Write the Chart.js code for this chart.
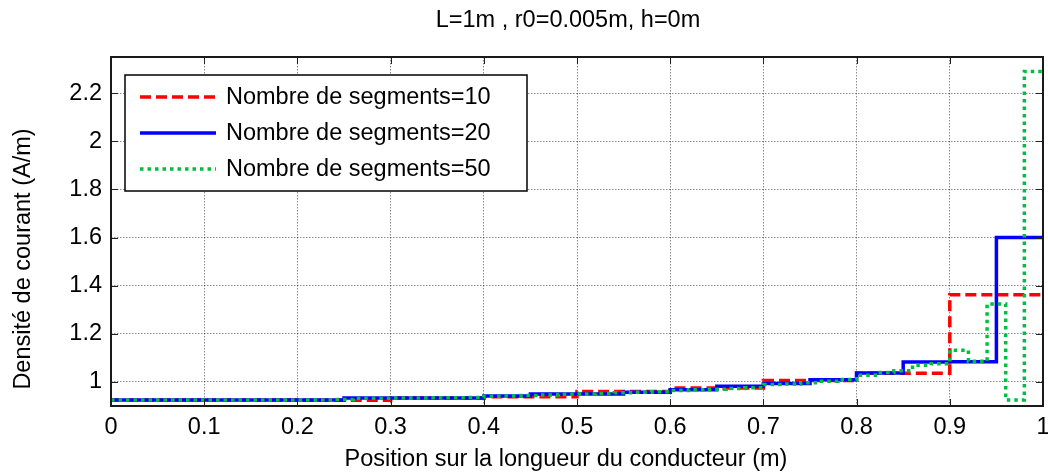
<!DOCTYPE html>
<html>
<head>
<meta charset="utf-8">
<script src="https://cdn.jsdelivr.net/npm/chart.js@4/dist/chart.umd.min.js"></script>
<style>
  html, body { margin: 0; padding: 0; background: #fff; }
  canvas { display: block; }
</style>
</head>
<body>
<canvas id="chart1" width="1048" height="473"></canvas>
<script>
// tick labels
const xTicks = [0, 0.1, 0.2, 0.3, 0.4, 0.5, 0.6, 0.7, 0.8, 0.9, 1]
const yTicks = [1, 1.2, 1.4, 1.6, 1.8, 2, 2.2]

const seriesLabels = ['Nombre de segments=10', 'Nombre de segments=20', 'Nombre de segments=50']

// current density per segment (A/m), segments equally spaced along 0..1 m
const seg10 = [0.925, 0.925, 0.924, 0.933, 0.938, 0.960, 0.975, 1.006, 1.036, 1.362]
const seg20 = [0.925, 0.925, 0.925, 0.925, 0.925, 0.933, 0.933, 0.933, 0.942, 0.950,
               0.950, 0.957, 0.968, 0.982, 0.993, 1.009, 1.037, 1.083, 1.084, 1.600]
const seg50 = [0.925, 0.925, 0.925, 0.925, 0.925, 0.925, 0.925, 0.925, 0.925, 0.925,
               0.925, 0.925, 0.927, 0.932, 0.932, 0.933, 0.933, 0.934, 0.934, 0.935,
               0.941, 0.942, 0.944, 0.946, 0.949, 0.950, 0.952, 0.955, 0.957, 0.959,
               0.964, 0.967, 0.970, 0.973, 0.976, 0.989, 0.991, 0.997, 1.003, 1.010,
               1.028, 1.039, 1.046, 1.069, 1.076, 1.132, 1.086, 1.324, 0.925, 2.290]

const titleText = 'L=1m , r0=0.005m, h=0m'
const xTitle = 'Position sur la longueur du conducteur (m)'
const yTitle = 'Densité de courant (A/m)'

const FONT = "'Liberation Sans', Arial, sans-serif"
const FSIZE = 23.5

// stairs: point i at x=i/n holds values[i] until next point
let toStairs = (vals) => {
  let n = vals.length
  let pts = vals.map((v, i) => ({ x: i / n, y: v }))
  pts.push({ x: 1, y: vals[n - 1] })
  return pts
}

let framePlugin = {
  id: 'frame',
  afterDatasetsDraw(chart) {
    let { ctx, chartArea: a, scales } = chart
    ctx.save()
    // inward tick marks
    ctx.strokeStyle = '#222'
    ctx.lineWidth = 1
    ctx.beginPath()
    xTicks.forEach(t => {
      let px = Math.round(scales.x.getPixelForValue(t)) + 0.5
      ctx.moveTo(px, a.bottom); ctx.lineTo(px, a.bottom - 7)
      ctx.moveTo(px, a.top); ctx.lineTo(px, a.top + 7)
    })
    yTicks.forEach(t => {
      let py = Math.round(scales.y.getPixelForValue(t)) + 0.5
      ctx.moveTo(a.left, py); ctx.lineTo(a.left + 7, py)
      ctx.moveTo(a.right, py); ctx.lineTo(a.right - 7, py)
    })
    ctx.stroke()
    // box
    ctx.strokeStyle = '#1a1a1a'
    ctx.lineWidth = 2
    ctx.strokeRect(a.left, a.top, a.right - a.left, a.bottom - a.top)

    // legend
    let bx = a.left + 14, by = a.top + 18, bw = 402, bh = 116
    ctx.fillStyle = '#fff'
    ctx.fillRect(bx, by, bw, bh)
    ctx.strokeStyle = '#000'
    ctx.lineWidth = 1.5
    ctx.strokeRect(bx, by, bw, bh)
    ctx.font = FSIZE + 'px ' + FONT
    ctx.textBaseline = 'middle'
    ctx.textAlign = 'left'
    chart.data.datasets.forEach((ds, i) => {
      let ry = by + 22 + i * 36
      ctx.strokeStyle = ds.borderColor
      ctx.lineWidth = ds.borderWidth
      ctx.setLineDash(ds.borderDash || [])
      ctx.beginPath()
      ctx.moveTo(bx + 15, ry); ctx.lineTo(bx + 91, ry)
      ctx.stroke()
      ctx.setLineDash([])
      ctx.fillStyle = '#000'
      ctx.fillText(ds.label, bx + 101, ry + 1)
    })

    // title and axis titles
    let cx = (a.left + a.right) / 2
    ctx.textAlign = 'center'
    ctx.fillText(titleText, cx - 9, 21)
    ctx.fillText(xTitle, cx - 11, 460)
    ctx.translate(24, 259)
    ctx.rotate(-Math.PI / 2)
    ctx.fillText(yTitle, 0, 0)
    ctx.restore()
  }
}

let ctx = document.getElementById('chart1').getContext('2d')

new Chart(ctx, {
  type: 'line',
  data: {
    datasets: [{
      label: seriesLabels[0],
      data: toStairs(seg10),
      borderColor: '#ff0000',
      borderWidth: 3.5,
      borderDash: [11, 5],
      stepped: true,
      order: 2
    }, {
      label: seriesLabels[1],
      data: toStairs(seg20),
      borderColor: '#0000ff',
      borderWidth: 3.5,
      stepped: true,
      order: 1
    }, {
      label: seriesLabels[2],
      data: toStairs(seg50),
      borderColor: '#00bf40',
      borderWidth: 3.5,
      borderDash: [3.5, 4],
      stepped: true,
      order: 0
    }]
  },
  options: {
    responsive: false,
    animation: false,
    elements: { point: { radius: 0 }, line: { tension: 0, borderCapStyle: 'butt' } },
    layout: { padding: { left: 8, right: 5, top: 57, bottom: 0 } },
    plugins: {
      legend: { display: false },
      tooltip: { enabled: false }
    },
    scales: {
      x: {
        type: 'linear',
        min: 0,
        max: 1,
        afterBuildTicks: (scale) => { scale.ticks = xTicks.map(v => ({ value: v })) },
        afterFit: (scale) => { scale.height = 67; scale.paddingRight = 0; scale.paddingLeft = 0 },
        ticks: {
          color: '#000',
          font: { family: FONT, size: FSIZE },
          padding: 7,
          maxRotation: 0,
          callback: (v) => String(v)
        },
        grid: { color: 'rgba(0,0,0,0.45)', lineWidth: 1, drawTicks: false },
        border: { display: false, dash: [1.5, 1.5] }
      },
      y: {
        type: 'linear',
        min: 0.9,
        max: 2.35,
        afterBuildTicks: (scale) => { scale.ticks = yTicks.map(v => ({ value: v })) },
        afterFit: (scale) => { scale.width = 103; scale.paddingTop = 0; scale.paddingBottom = 0 },
        ticks: {
          color: '#000',
          font: { family: FONT, size: FSIZE },
          padding: 9,
          callback: (v) => String(v)
        },
        grid: { color: 'rgba(0,0,0,0.45)', lineWidth: 1, drawTicks: false },
        border: { display: false, dash: [1.5, 1.5] }
      }
    }
  },
  plugins: [framePlugin]
})
</script>
</body>
</html>
